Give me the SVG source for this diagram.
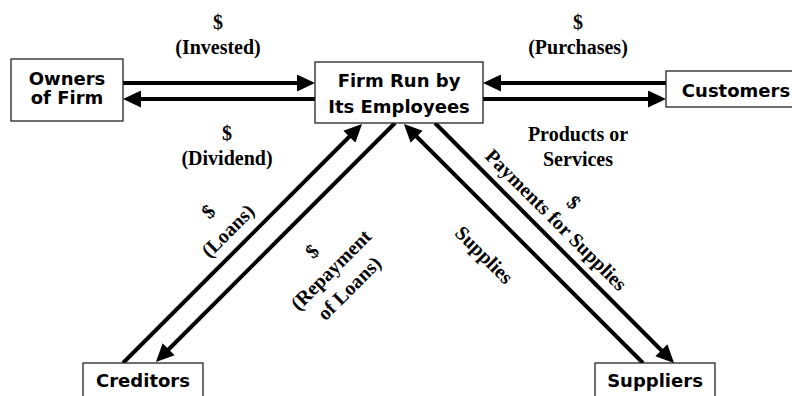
<svg xmlns="http://www.w3.org/2000/svg" width="792" height="396" viewBox="0 0 792 396">
<defs>
<style>
.box{fill:#fff;stroke:#222;stroke-width:1.3}
.nt{font-family:"DejaVu Sans",sans-serif;font-weight:bold;font-size:18px;fill:#000;text-anchor:middle}
.lb{font-family:"Liberation Serif","Times New Roman",serif;font-weight:bold;font-size:20px;fill:#000;text-anchor:middle}
.ar{stroke:#000;stroke-width:4;fill:none;marker-end:url(#ah)}
</style>
<marker id="ah" markerUnits="userSpaceOnUse" markerWidth="18" markerHeight="17" refX="8" refY="8.5" orient="auto">
<path d="M0,0 L18,8.5 L0,17 Z" fill="#000"/>
</marker>
</defs>
<rect width="792" height="396" fill="#fff"/>
<g id="connectors">
<line class="ar" x1="123" y1="83" x2="305" y2="83"/>
<line class="ar" x1="315" y1="99" x2="133" y2="99"/>
<line class="ar" x1="666" y1="83" x2="493" y2="83"/>
<line class="ar" x1="483" y1="99" x2="656" y2="99"/>
<line class="ar" x1="123" y1="363" x2="355" y2="131"/>
<line class="ar" x1="395" y1="123" x2="163" y2="355"/>
<line class="ar" x1="643" y1="363" x2="411" y2="131"/>
<line class="ar" x1="435" y1="123" x2="667" y2="356"/>
</g>
<g id="owners">
<rect class="box" x="11" y="59" width="112" height="62"/>
<text class="nt" x="67" y="85">Owners</text>
<text class="nt" x="67" y="104">of Firm</text>
</g>
<g id="firm">
<rect class="box" x="315" y="62" width="168" height="61"/>
<text class="nt" x="399" y="87">Firm Run by</text>
<text class="nt" x="399" y="113">Its Employees</text>
</g>
<g id="customers">
<rect class="box" x="666" y="71" width="140" height="36"/>
<text class="nt" x="736" y="97">Customers</text>
</g>
<g id="creditors">
<rect class="box" x="83" y="363" width="120" height="40"/>
<text class="nt" x="143" y="387">Creditors</text>
</g>
<g id="suppliers">
<rect class="box" x="595" y="363" width="120" height="40"/>
<text class="nt" x="655" y="387">Suppliers</text>
</g>
<g id="labels">
<text class="lb" x="218" y="29">$</text>
<text class="lb" x="218" y="54">(Invested)</text>
<text class="lb" x="227" y="140">$</text>
<text class="lb" x="227" y="165">(Dividend)</text>
<text class="lb" x="578" y="29">$</text>
<text class="lb" x="578" y="54">(Purchases)</text>
<text class="lb" x="578" y="141">Products or</text>
<text class="lb" x="578" y="166">Services</text>
<g transform="translate(228,231) rotate(-45)">
<text class="lb" x="0" y="-21">$</text>
<text class="lb" x="0" y="6.5">(Loans)</text>
</g>
<g transform="translate(331,270) rotate(-45)">
<text class="lb" x="0" y="-20">$</text>
<text class="lb" x="0" y="6.5">(Repayment</text>
<text class="lb" x="0" y="32.5">of Loans)</text>
</g>
<g transform="translate(556,220) rotate(45)">
<text class="lb" x="0" y="-18.5">$</text>
<text class="lb" x="0" y="6.5">Payments for Supplies</text>
</g>
<g transform="translate(484,255) rotate(45)">
<text class="lb" x="0" y="6.5">Supplies</text>
</g>
</g>
</svg>
